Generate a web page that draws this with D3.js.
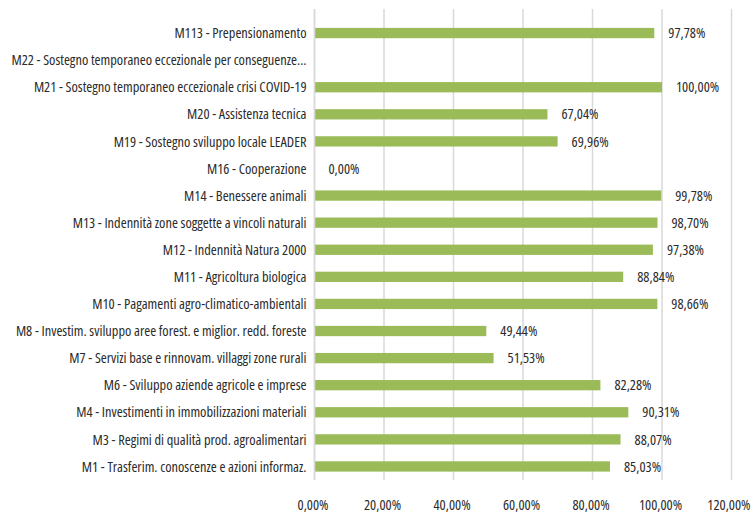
<!DOCTYPE html>
<html>
<head>
<meta charset="utf-8">
<script src="https://cdn.jsdelivr.net/npm/d3@7"></script>
<style>
  html, body { margin: 0; padding: 0; background: #fff; }
  svg text { font-family: "Open Sans", sans-serif; font-stretch: condensed; fill: #2b2b2b; }
</style>
</head>
<body>
<svg id="chart" width="752" height="513"></svg>
<script>
// Misure del PSR, dall'alto verso il basso
const categories = [
  "M113 - Prepensionamento",
  "M22 - Sostegno temporaneo eccezionale per conseguenze...",
  "M21 - Sostegno temporaneo eccezionale crisi COVID-19",
  "M20 - Assistenza tecnica",
  "M19 - Sostegno sviluppo locale LEADER",
  "M16 - Cooperazione",
  "M14 - Benessere animali",
  "M13 - Indennità zone soggette a vincoli naturali",
  "M12 - Indennità Natura 2000",
  "M11 - Agricoltura biologica",
  "M10 - Pagamenti agro-climatico-ambientali",
  "M8 - Investim. sviluppo aree forest. e miglior. redd. foreste",
  "M7 - Servizi base e rinnovam. villaggi zone rurali",
  "M6 - Sviluppo aziende agricole e imprese",
  "M4 - Investimenti in immobilizzazioni materiali",
  "M3 - Regimi di qualità prod. agroalimentari",
  "M1 - Trasferim. conoscenze e azioni informaz."
];
// Percentuale di avanzamento (null = nessun dato)
const values = [97.78, null, 100.00, 67.04, 69.96, 0.00, 99.78, 98.70, 97.38, 88.84, 98.66, 49.44, 51.53, 82.28, 90.31, 88.07, 85.03];
const tickValues = [0, 20, 40, 60, 80, 100, 120];

const fmt = v => v.toFixed(2).replace(".", ",") + "%";
const FS = 14.4;
const W = 752;

const svg = d3.select("#chart");
const left = 314.5, right = 731.5, gridTop = 9, bandTop = 19.5, bottom = 480;

const x = d3.scaleLinear().domain([0, 120]).range([left, right]);
const y = d3.scaleBand().domain(categories).range([bandTop, bottom]).paddingInner(0.62).paddingOuter(0.31);

const rows = categories.map((c, i) => ({c, v: values[i]})).filter(d => d.v !== null);

// griglia verticale
svg.append("g").selectAll("line").data(tickValues).join("line")
  .attr("x1", d => x(d)).attr("x2", d => x(d))
  .attr("y1", gridTop).attr("y2", bottom)
  .attr("stroke", "#d9d9d9").attr("stroke-width", 1.5);

// barre
svg.append("g").selectAll("rect").data(rows).join("rect")
  .attr("x", x(0))
  .attr("y", d => y(d.c))
  .attr("width", d => x(d.v) - x(0))
  .attr("height", y.bandwidth())
  .attr("fill", "#9bbb59");

// etichette valori
svg.append("g").selectAll("text").data(rows).join("text")
  .attr("x", d => x(d.v) + 14)
  .attr("y", d => y(d.c) + y.bandwidth() / 2)
  .attr("dy", "0.36em")
  .attr("font-size", FS)
  .text(d => fmt(d.v));

// asse delle categorie
const yAxis = svg.append("g").attr("transform", `translate(${left},0)`)
  .call(d3.axisLeft(y).tickSize(0).tickPadding(8));
yAxis.select(".domain").attr("stroke", "#d9d9d9").attr("stroke-width", 1.5).attr("d", `M0,${gridTop}V${bottom}`);
yAxis.selectAll("text").attr("font-size", FS).attr("dy", "0.36em");

// asse dei valori
const xAxis = svg.append("g").attr("transform", `translate(0,${bottom})`)
  .call(d3.axisBottom(x).tickValues(tickValues).tickFormat(d => fmt(d)).tickSize(0).tickPadding(20));
xAxis.select(".domain").remove();
xAxis.selectAll("text").attr("font-size", FS).attr("x", -2);
// l'ultima etichetta resta dentro il bordo destro
xAxis.selectAll(".tick text").each(function(d) {
  const w = this.getComputedTextLength();
  const cx = x(d) - 2;
  if (cx + w / 2 > W - 2) d3.select(this).attr("x", (W - 2 - w / 2) - x(d));
});
</script>
</body>
</html>
